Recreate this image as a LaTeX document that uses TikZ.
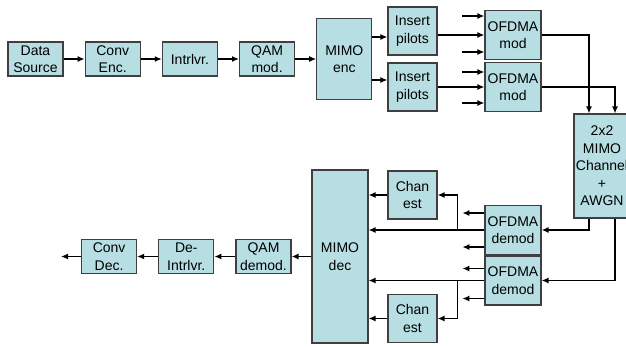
\documentclass[tikz,border=0pt]{standalone}
\usepackage{fontspec}
\setmainfont{Liberation Sans}
\usepackage{xcolor}
\definecolor{cFill}{HTML}{B7DEE3}
\definecolor{cEdge}{HTML}{3F3F3F}
\definecolor{cLine}{HTML}{000000}
\usetikzlibrary{positioning,arrows.meta,calc}
\tikzset{
  node-block/.style={draw=cEdge,line width=1.2pt,fill=cFill,inner sep=0pt,
    minimum width=55pt,minimum height=34pt,align=center,
    font=\fontsize{14}{17.5}\selectfont},
  node-small/.style={node-block,minimum width=49pt,minimum height=48pt},
  node-wide/.style={node-block,minimum width=56pt,minimum height=49pt},
  arrow/.style={-{Latex[length=7pt,width=6pt]},line width=1.3pt,draw=cLine},
}

\begin{document}
\begin{tikzpicture}[x=1pt,y=-1pt,node distance=21pt]
  \useasboundingbox (0,0) rectangle (626,346);
  % transmitter
  \node[node-block] (src) at (35.5,59) {Data\\Source};
  \node[node-block,right=of src] (enc) {Conv\\Enc.};
  \node[node-block,right=of enc] (intl) {Intrlvr.};
  \node[node-block,right=of intl] (qam) {QAM\\mod.};
  \node[node-block,right=of qam,minimum height=81pt] (menc) {MIMO\\enc};
  \node[node-small] (pil1) at (412.5,31) {Insert\\pilots};
  \node[node-small] (pil2) at (412.5,87) {Insert\\pilots};
  \node[node-wide] (ofm1) at (513,35) {OFDMA\\mod};
  \node[node-wide] (ofm2) at (513,87) {OFDMA\\mod};
  \node[node-block,minimum width=56pt,minimum height=104pt] (chan) at (602,166)
    {2x2\\MIMO\\Channel\\+\\AWGN};
  % receiver
  \node[node-wide] (dem1) at (513,230) {OFDMA\\demod};
  \node[node-wide] (dem2) at (513,280.5) {OFDMA\\demod};
  \node[node-small] (ce1) at (412.5,195) {Chan\\est};
  \node[node-small] (ce2) at (412.5,318.5) {Chan\\est};
  \node[node-block,minimum width=56pt,minimum height=173pt] (mdec) at (340,256.5) {MIMO\\dec};
  \node[node-block] (qdem) at (263.5,256.5) {QAM\\demod.};
  \node[node-block,left=of qdem] (dint) {De-\\Intrlvr.};
  \node[node-block,left=of dint] (cdec) {Conv\\Dec.};

  \draw[arrow] (src) -- (enc);
  \draw[arrow] (enc) -- (intl);
  \draw[arrow] (intl) -- (qam);
  \draw[arrow] (qam) -- (menc);
  \coordinate (p1in) at ([yshift=-6pt]pil1.west);
  \coordinate (p2in) at ([yshift=7pt]pil2.west);
  \draw[arrow] (menc.east |- p1in) -- (p1in);
  \draw[arrow] (menc.east |- p2in) -- (p2in);
  \draw[arrow] (pil1.east |- ofm1.west) -- (ofm1.west);
  \draw[arrow] (pil2.east |- ofm2.west) -- (ofm2.west);
  \draw[arrow] ([xshift=-22pt,yshift=19pt]ofm1.west) -- ([yshift=19pt]ofm1.west);
  \draw[arrow] ([xshift=-22pt,yshift=-17pt]ofm1.west) -- ([yshift=-17pt]ofm1.west);
  \draw[arrow] ([xshift=-22pt,yshift=15pt]ofm2.west) -- ([yshift=15pt]ofm2.west);
  \draw[arrow] ([xshift=-22pt,yshift=-16pt]ofm2.west) -- ([yshift=-16pt]ofm2.west);
  \draw[arrow] (ofm1.east) -| ([xshift=-13pt]chan.north);
  \draw[arrow] (ofm2.east) -| ([xshift=13pt]chan.north);
  \draw[arrow] ([xshift=-13pt]chan.south) |- (dem1.east);
  \draw[arrow] ([xshift=13pt]chan.south) |- (dem2.east);

  \draw[arrow] (dem1.west) -- (dem1.west -| mdec.east);
  \draw[arrow] (dem2.west) -- (dem2.west -| mdec.east);
  \draw[arrow] ([xshift=-27pt]dem1.west) |- (ce1.east);
  \draw[arrow] ([xshift=-27pt]dem2.west) |- (ce2.east);
  \draw[arrow] ([yshift=17pt]dem1.west) -- ++(-22pt,0);
  \draw[arrow] ([yshift=-17pt]dem1.west) -- ++(-22pt,0);
  \draw[arrow] ([yshift=12pt]dem2.west) -- ++(-22pt,0);
  \draw[arrow] ([yshift=-18pt]dem2.west) -- ++(-22pt,0);
  \draw[arrow] (ce1.west) -- (ce1.west -| mdec.east);
  \draw[arrow] (ce2.west) -- (ce2.west -| mdec.east);
  \draw[arrow] (mdec) -- (qdem);
  \draw[arrow] (qdem) -- (dint);
  \draw[arrow] (dint) -- (cdec);
  \coordinate (sink) at ([xshift=-20pt]cdec.west);
  \draw[arrow] (cdec) -- (sink);
\end{tikzpicture}
\end{document}
